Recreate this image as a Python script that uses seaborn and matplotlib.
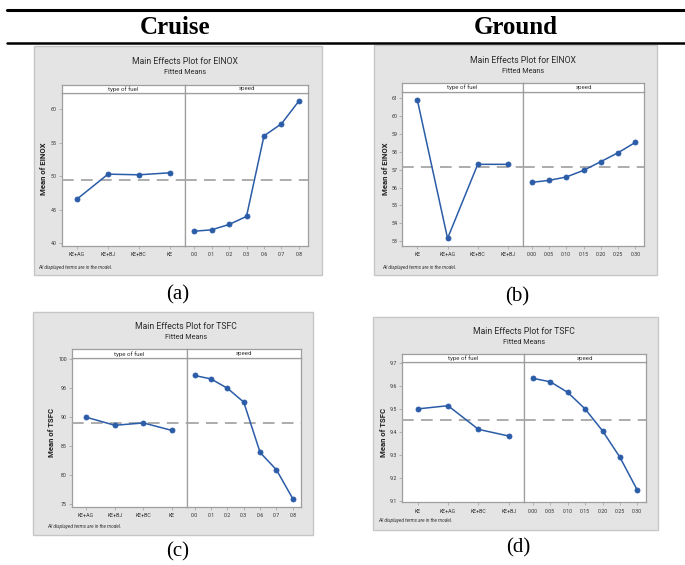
import matplotlib
matplotlib.use("Agg")
import matplotlib.pyplot as plt
import seaborn as sns
import pandas as pd
from matplotlib.patches import Rectangle
from matplotlib.lines import Line2D

# ---------------- data ----------------
cruise_fuel = ["KE+AG", "KE+BJ", "KE+BC", "KE"]
cruise_speed = ["0.0", "0.1", "0.2", "0.3", "0.6", "0.7", "0.8"]
ground_fuel = ["KE", "KE+AG", "KE+BC", "KE+BJ"]
ground_speed = ["0.00", "0.05", "0.10", "0.15", "0.20", "0.25", "0.30"]

a_fuel = [46.6, 50.3, 50.2, 50.5]
a_speed = [41.8, 42.0, 42.8, 44.0, 56.0, 57.8, 61.2]
b_fuel = [60.9, 53.15, 57.3, 57.3]
b_speed = [56.29, 56.40, 56.59, 56.96, 57.45, 57.95, 58.53]
c_fuel = [90.0, 88.6, 89.0, 87.7]
c_speed = [97.2, 96.6, 95.0, 92.6, 83.9, 80.9, 75.9]
d_fuel = [9.499, 9.513, 9.410, 9.381]
d_speed = [9.632, 9.617, 9.571, 9.499, 9.404, 9.289, 9.146]
grand_means = [49.45, 57.16, 88.94, 9.451]

a_yticks = [40, 45, 50, 55, 60]
b_yticks = [53, 54, 55, 56, 57, 58, 59, 60, 61]
c_yticks = [75, 80, 85, 90, 95, 100]
d_yticks = [9.1, 9.2, 9.3, 9.4, 9.5, 9.6, 9.7]

responses = ["EINOX", "EINOX", "TSFC", "TSFC"]
captions = ["(a)", "(b)", "(c)", "(d)"]
headers = ["Cruise", "Ground"]

# ---------------- style ----------------
W, H = 685, 565
sns.set_theme(style="white")
plt.rcParams['font.family'] = ['Roboto', 'DejaVu Sans']
BLUE = "#2B5CA8"
GRID = "#9E9E9E"

fig = plt.figure(figsize=(W / 100, H / 100), dpi=100)
fig.patch.set_facecolor("white")


def fx(x):
    return x / W


def fy(y):
    return 1 - y / H


def ax_px(l, t, r, b):
    a = fig.add_axes([l / W, 1 - b / H, (r - l) / W, (b - t) / H])
    a.set_zorder(2)
    return a


def panel(box, strip_top, plot_top, plot_bot, xl, xm, xr, ylim, yticks, yfmt,
          fuel_cats, fuel_vals, speed_cats, speed_vals, mean, response,
          title_y, foot_xy, ylabel_x):
    fig.patches.append(Rectangle((fx(box[0]), fy(box[3])), (box[2] - box[0]) / W,
                                 (box[3] - box[1]) / H, transform=fig.transFigure,
                                 facecolor="#E4E4E4", edgecolor="#C6C6C6", lw=1.0,
                                 zorder=-5))
    parts = [(xl, xm, fuel_cats, fuel_vals, "type of fuel", True),
             (xm, xr, speed_cats, speed_vals, "speed", False)]
    for (l, r, cats, vals, name, first) in parts:
        ax = ax_px(l, plot_top, r, plot_bot)
        ax.set_facecolor("white")
        df = pd.DataFrame({"level": cats, "mean": vals})
        ax.axhline(mean, color="#A6A6A6", lw=1.3, dashes=(6.5, 4), zorder=1)
        sns.pointplot(data=df, x="level", y="mean", ax=ax, color=BLUE,
                      errorbar=None, markers="o", linestyles="-",
                      markersize=3.6, linewidth=1.1, markeredgewidth=0.6)
        for ln in ax.lines:
            ln.set_zorder(3)
        ax.set_xlim(-0.5, len(cats) - 0.5)
        ax.set_ylim(*ylim)
        ax.set_xlabel("")
        ax.set_ylabel("")
        for s in ax.spines.values():
            s.set_color(GRID)
            s.set_linewidth(0.9)
        ax.tick_params(axis="x", length=2, width=0.5, color=GRID, labelsize=3.8,
                       pad=2.5, labelcolor="#333333", bottom=True)
        ax.set_yticks(yticks)
        if first:
            ax.set_yticklabels([yfmt.format(v) for v in yticks])
            ax.tick_params(axis="y", length=2, width=0.5, color=GRID,
                           labelsize=3.8, pad=1.5, labelcolor="#333333", left=True)
        else:
            ax.tick_params(axis="y", left=False, labelleft=False)
        sax = ax_px(l, strip_top, r, plot_top)
        sax.set_facecolor("white")
        sax.set_xticks([])
        sax.set_yticks([])
        for s in sax.spines.values():
            s.set_color(GRID)
            s.set_linewidth(0.9)
        sax.text(0.5, 0.5, name, ha="center", va="center", fontsize=4.4,
                 color="#333333", transform=sax.transAxes)
    cx = (xl + xr) / 2
    fig.text(fx(cx), fy(title_y), "Main Effects Plot for " + response,
             ha="center", va="center", fontsize=6.2, color="#2A2A2A")
    fig.text(fx(cx), fy(title_y + 11), "Fitted Means", ha="center", va="center",
             fontsize=5.2, color="#2A2A2A")
    fig.text(fx(ylabel_x), fy((plot_top + plot_bot) / 2), "Mean of " + response,
             rotation=90, ha="center", va="center", fontsize=5.6,
             fontweight="bold", color="#222222")
    fig.text(fx(foot_xy[0]), fy(foot_xy[1]), "All displayed terms are in the model.",
             ha="left", va="center", fontsize=3.4, style="italic", color="#333333")


panel((34, 46, 322, 275), 85, 92.7, 245.7, 61.7, 185.3, 307.7, (39.64, 62.43),
      a_yticks, "{:g}", cruise_fuel, a_fuel, cruise_speed, a_speed,
      grand_means[0], responses[0], 61.7, (38, 267.7), 43)
panel((374, 45, 657, 275), 83.3, 91.7, 245.7, 402.3, 523.0, 644.0, (52.74, 61.37),
      b_yticks, "{:g}", ground_fuel, b_fuel, ground_speed, b_speed,
      grand_means[1], responses[1], 60.7, (381.7, 268), 385)
panel((33, 312, 313, 535), 349.3, 358.3, 507.0, 71.7, 186.5, 301.0, (74.48, 100.17),
      c_yticks, "{:g}", cruise_fuel, c_fuel, cruise_speed, c_speed,
      grand_means[2], responses[2], 326.7, (46.7, 526.7), 51)
panel((373, 317, 658, 530), 354.3, 362.0, 502.3, 402.3, 524.2, 646.0, (9.093, 9.703),
      d_yticks, "{:.1f}", ground_fuel, d_fuel, ground_speed, d_speed,
      grand_means[3], responses[3], 331.7, (378, 520.7), 383)

# table header
fig.add_artist(Line2D([fx(7), fx(685)], [fy(10), fy(10)], color="black", lw=2.2))
fig.add_artist(Line2D([fx(7), fx(685)], [fy(42.5), fy(42.5)], color="black", lw=1.8))
for hx, h in zip([175, 516], headers):
    fig.text(fx(hx), fy(27), h, ha="center", va="center", fontsize=18,
             fontweight="bold", family="Liberation Serif", color="black")

for (cx, cy), c in zip([(178, 295), (517.5, 297), (178, 552), (518, 548)], captions):
    fig.text(fx(cx), fy(cy), c, ha="center", va="center", fontsize=15,
             family="Liberation Serif", color="black")

fig.savefig("out.png", dpi=100)
